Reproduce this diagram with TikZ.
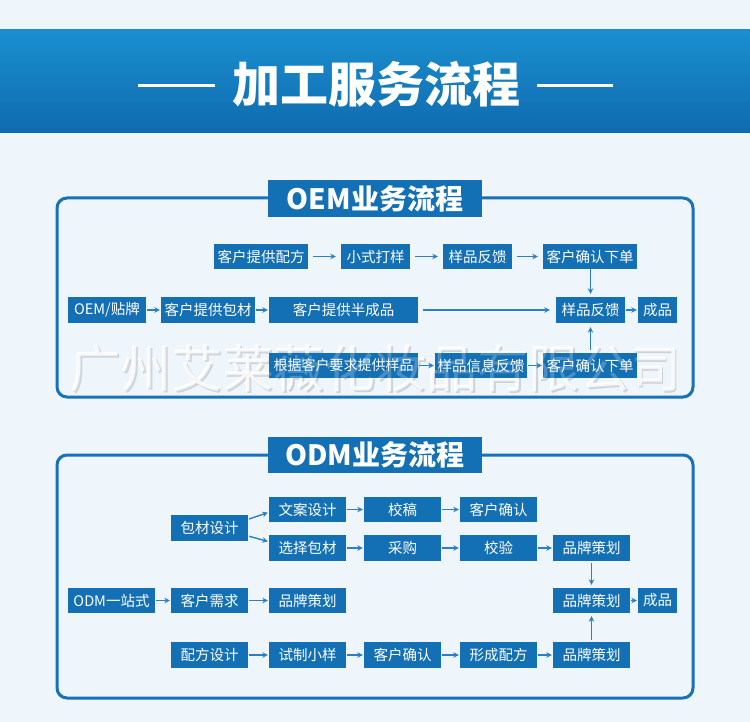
\documentclass[tikz,border=0pt]{standalone}
\usepackage{fontspec}
\newfontfamily\cjk{Noto Sans CJK SC}
\usetikzlibrary{arrows.meta}
\definecolor{bg}{HTML}{EEF5FB}
\definecolor{boxblue}{HTML}{1470B4}
\definecolor{linblue}{HTML}{1872B7}
\definecolor{arrblue}{HTML}{2A80C2}
\definecolor{topA}{HTML}{1A8FCF}
\definecolor{topB}{HTML}{0F6BAF}
\definecolor{wmgray}{HTML}{CDD2D7}
\newcommand\bx[6]{\node[box,minimum width={#4pt-#2pt},minimum height={#5pt-#3pt}] (#1) at ({(#2+#4)/2},{(#3+#5)/2}) {#6};}
\tikzset{
  box/.style={fill=boxblue,text=white,inner sep=0pt,font=\cjk\fontsize{14.5}{15}\selectfont},
  arr/.style={draw=arrblue,line width=1.4pt,-{Stealth[length=5.5pt,width=5.5pt]},shorten <=1pt,shorten >=1pt},
  arrg/.style={arr,shorten <=5pt,shorten >=5pt},
  frame/.style={draw=linblue,line width=3pt,rounded corners=10pt},
  ttl/.style={fill=boxblue,text=white,inner sep=0pt,font=\cjk\bfseries\fontsize{28}{30}\selectfont},
  wmark/.style={inner sep=0pt,font=\cjk\fontsize{51}{54}\selectfont},
}
\begin{document}
\begin{tikzpicture}[x=1pt,y=-1pt]
\fill[bg] (0,0) rectangle (750,722);
\useasboundingbox (0,0) rectangle (750,722);
% header band
\shade[top color=topA,bottom color=topB] (0,30) rectangle (750,133);
\node[text=white,inner sep=0pt,font=\cjk\bfseries\fontsize{48}{50}\selectfont] (maintitle) at (376,84) {加工服务流程};
\coordinate (l1) at (138,86); \coordinate (l2) at (215,86);
\coordinate (r1) at (537,86); \coordinate (r2) at (613,86);
\draw[white,line width=3pt] (l1) -- (l2);
\draw[white,line width=3pt] (r1) -- (r2);

% ===== OEM =====
\draw[frame] (57,198) rectangle (693,397);
\bx{oemt}{268}{180}{482}{217}{}
\node[ttl] (oemtitle) at (oemt.center) {OEM业务流程};

% watermark (behind boxes)
\node[wmark,text=wmgray] (wm0) at (377,370) {广州艾莱薇化妆品有限公司};
\node[wmark,text=white,opacity=0.8] (wm1) at (375.8,368.8) {广州艾莱薇化妆品有限公司};

\bx{a1}{214}{244}{308}{269}{客户提供配方}
\bx{a2}{341}{244}{410}{269}{小式打样}
\bx{a3}{443}{244}{512}{269}{样品反馈}
\bx{a4}{543}{244}{637}{269}{客户确认下单}

\bx{b1}{68}{297}{146}{323}{OEM/贴牌}
\bx{b2}{161}{297}{255}{323}{客户提供包材}
\bx{b3}{269}{297}{418}{323}{客户提供半成品}
\bx{b4}{556}{297}{625}{323}{样品反馈}
\bx{b5}{638}{297}{677}{323}{成品}

\bx{c1}{269}{353}{418}{378}{\fontsize{14}{15}\selectfont 根据客户要求提供样品}
\bx{c2}{435}{353}{527}{378}{样品信息反馈}
\bx{c3}{543}{353}{637}{378}{客户确认下单}

% faint watermark over the boxes
\node[wmark,text=white,opacity=0.22] (wm2) at (376,369) {广州艾莱薇化妆品有限公司};

\draw[arrg] (a1) -- (a2);
\draw[arrg] (a2) -- (a3);
\draw[arrg] (a3) -- (a4);
\draw[arr] (b1) -- (b2);
\draw[arr] (b2) -- (b3);
\draw[arr,shorten <=5pt,shorten >=6pt] (b3) -- (b4);
\draw[arr] (b4) -- (b5);
\draw[arr] (c1) -- (c2);
\draw[arr] (c2) -- (c3);
\draw[arr,shorten <=0pt,shorten >=3pt] (a4.south -| b4.north) -- (b4.north);
\draw[arr,shorten <=3pt,shorten >=4pt] (c3.north -| b4.south) -- (b4.south);

% ===== ODM =====
\draw[frame] (57,455) rectangle (693,698);
\bx{odmt}{268}{437}{482}{473}{}
\node[ttl] (odmtitle) at (odmt.center) {ODM业务流程};

\bx{bc}{171}{515}{248}{541}{包材设计}
\bx{wa}{269}{497}{346}{522}{文案设计}
\bx{xz}{269}{535}{346}{561}{选择包材}
\bx{jg}{364}{497}{441}{522}{校稿}
\bx{kq1}{460}{497}{537}{522}{客户确认}
\bx{cg}{364}{535}{441}{561}{采购}
\bx{jy}{460}{535}{537}{561}{校验}
\bx{pp1}{553}{535}{630}{561}{品牌策划}

\bx{od}{68}{588}{155}{613}{ODM一站式}
\bx{xq}{171}{588}{248}{613}{客户需求}
\bx{pp2}{269}{588}{346}{613}{品牌策划}
\bx{pp3}{553}{588}{630}{613}{品牌策划}
\bx{cp}{638}{588}{677}{613}{成品}

\bx{pf}{171}{642}{248}{668}{配方设计}
\bx{sz}{269}{642}{346}{668}{试制小样}
\bx{kq2}{364}{642}{441}{668}{客户确认}
\bx{xc}{460}{642}{537}{668}{形成配方}
\bx{pp4}{553}{642}{630}{668}{品牌策划}

\draw[arr] ([yshift=8.7pt]bc.east) -- ([yshift=-2.8pt]wa.west);
\draw[arr] ([yshift=-8pt]bc.east) -- ([yshift=6.3pt]xz.west);
\draw[arr] (wa) -- (jg);
\draw[arr] (jg) -- (kq1);
\draw[arr] (xz) -- (cg);
\draw[arr] (cg) -- (jy);
\draw[arr] (jy) -- (pp1);
\draw[arr] (od) -- (xq);
\draw[arr] (xq) -- (pp2);
\draw[arr] (pp3) -- (cp);
\draw[arr] (pf) -- (sz);
\draw[arr] (sz) -- (kq2);
\draw[arr] (kq2) -- (xc);
\draw[arr] (xc) -- (pp4);
\draw[arr,shorten <=2pt,shorten >=3pt] (pp1) -- (pp3);
\draw[arr,shorten <=2pt,shorten >=3pt] (pp4) -- (pp3);
\end{tikzpicture}
\end{document}
